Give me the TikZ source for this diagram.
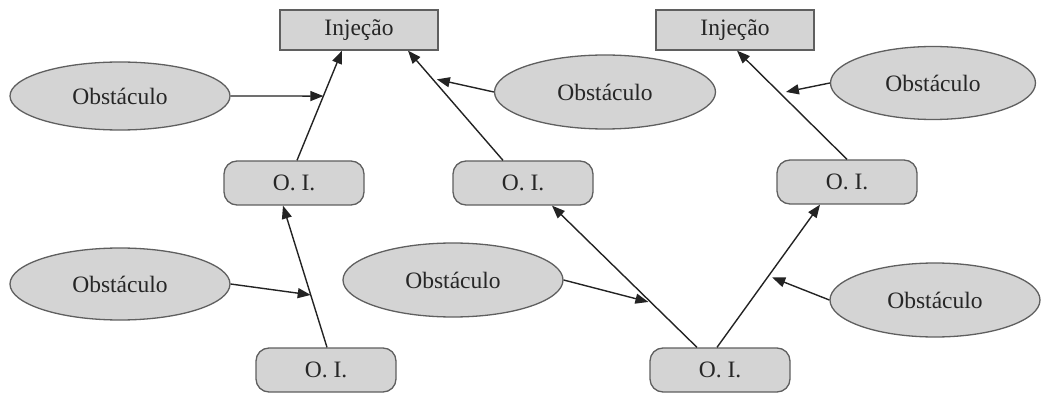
\documentclass[tikz,border=0pt]{standalone}
\usepackage{fontspec}
\setmainfont{Liberation Serif}
\usetikzlibrary{shapes.geometric,arrows.meta}
\definecolor{shapefill}{RGB}{212,212,212}
\definecolor{shapeline}{RGB}{95,95,95}
\definecolor{linkline}{RGB}{35,35,35}
\begin{document}
\begin{tikzpicture}[x=1pt,y=-1pt,
  every node/.style={font=\fontsize{23.5}{28}\selectfont, text=black!85},
  injbox/.style={draw=shapeline, fill=shapefill, line width=1.3pt, rectangle,
    minimum width=158pt, minimum height=40pt, inner sep=0pt},
  oibox/.style={draw=shapeline, fill=shapefill, line width=1.3pt, rectangle,
    rounded corners=13pt, minimum width=140pt, minimum height=44pt, inner sep=0pt},
  obst/.style={draw=shapeline, fill=shapefill, line width=1.3pt, ellipse,
    inner sep=0pt},
  link/.style={draw=linkline, line width=1.4pt,
    -{Triangle[length=13pt,width=10pt]}}
]
\useasboundingbox (0,0) rectangle (1042,393);

% target boxes
\node[injbox] (inj1) at (359,30) {Injeção};
\node[injbox] (inj2) at (735,30) {Injeção};

% intermediate objectives
\node[oibox] (oi1) at (294,183) {O. I.};
\node[oibox] (oi2) at (523,183) {O. I.};
\node[oibox] (oi3) at (847,182) {O. I.};
\node[oibox] (oi4) at (326,370) {O. I.};
\node[oibox] (oi5) at (720,370) {O. I.};

% obstacles
\node[obst, minimum width=220pt, minimum height=68pt] (ob1) at (120,96) {Obstáculo};
\node[obst, minimum width=221pt, minimum height=74pt] (ob2) at (605,92) {Obstáculo};
\node[obst, minimum width=205pt, minimum height=73pt] (ob3) at (933,83) {Obstáculo};
\node[obst, minimum width=220pt, minimum height=72pt] (ob4) at (120,284) {Obstáculo};
\node[obst, minimum width=220pt, minimum height=74pt] (ob5) at (453,280) {Obstáculo};
\node[obst, minimum width=210pt, minimum height=74pt] (ob6) at (935,300) {Obstáculo};

% main links, with a point on each where the obstacle arrow meets it
\draw[link] ([xshift=3pt]oi1.north) -- coordinate[pos=0.586] (m1) ([xshift=-17pt]inj1.south);
\draw[link] ([xshift=-20pt]oi2.north) -- coordinate[pos=0.748] (m2) ([xshift=49pt]inj1.south);
\draw[link] (oi3.north) -- coordinate[pos=0.609] (m3) ([xshift=2pt]inj2.south);
\draw[link] ([xshift=1pt]oi4.north) -- coordinate[pos=0.37] (m4) ([xshift=-11pt]oi1.south);
\draw[link] ([xshift=-23pt]oi5.north) -- coordinate[pos=0.315] (m5) ([xshift=29pt]oi2.south);
\draw[link] ([xshift=-3pt]oi5.north) -- coordinate[pos=0.50] (m6) ([xshift=-27pt]oi3.south);

% obstacle arrows
\draw[link] (ob1.east) -- (m1);
\draw[link, shorten >=5pt] (ob2.west) -- (m2);
\draw[link, shorten >=6pt] (ob3.west) -- (m3);
\draw[link] (ob4.east) -- (m4);
\draw[link, shorten >=3pt] (ob5.east) -- (m5);
\draw[link, shorten >=4pt] (ob6.west) -- (m6);
\end{tikzpicture}
\end{document}
